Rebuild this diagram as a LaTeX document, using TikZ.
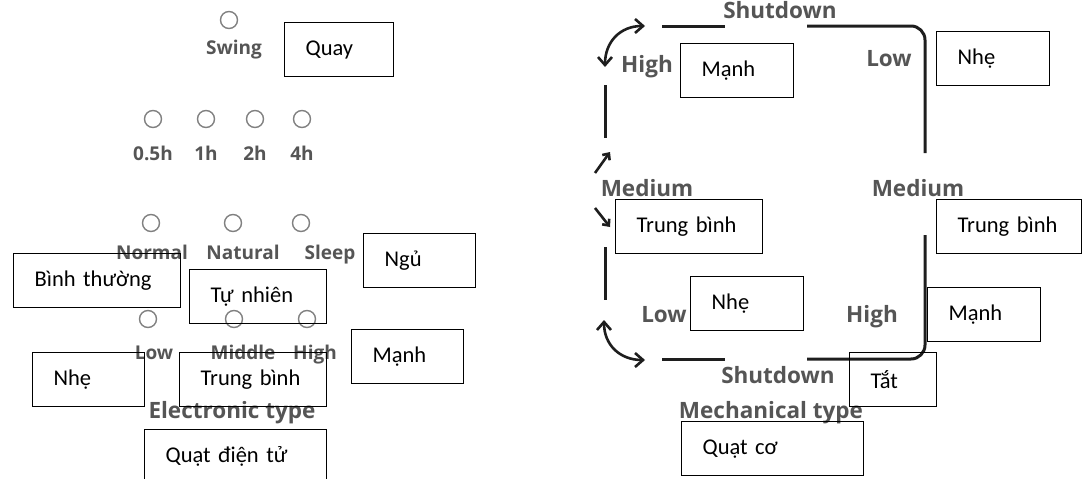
\documentclass[tikz,border=0pt]{standalone}
\usepackage{fontspec}
\setmainfont{Carlito}
\newfontfamily\anzeigefont{Open Sans}
\usetikzlibrary{arrows.meta}
\definecolor{anzeige}{HTML}{555555}
\definecolor{ring}{HTML}{808080}
\definecolor{strich}{HTML}{1E1E1E}

\begin{document}
\begin{tikzpicture}[x=1pt,y=-1pt,>={Straight Barb[length=8pt,width=14pt]},
	lampe/.style={circle,draw=ring,line width=1.4pt,minimum size=17pt,inner sep=0pt},
	klein/.style={anchor=base,text=anzeige,font=\anzeigefont\bfseries\fontsize{19}{19}\selectfont},
	gross/.style={anchor=base,text=anzeige,font=\anzeigefont\bfseries\fontsize{22.5}{22.5}\selectfont},
	feld/.style={draw,line width=1.3pt,anchor=north west,inner xsep=21pt,inner ysep=0pt,
		minimum height=54pt,align=left,text width=#1,font=\fontsize{22.5}{27}\selectfont},
	bahn/.style={draw=strich,line width=3pt,rounded corners=14pt},
	pfeil/.style={draw=strich,line width=2.6pt}]

\useasboundingbox (0,0) rectangle (1082,479);

% elektronisch
\node[lampe] (swing) at (229,20) {};
\node[klein] (swingname) at (234,54) {Swing};

\foreach \x/\t [count=\i] in {153/0.5h,206/1h,255/2h,302/4h}{
	\node[lampe] (zeit\i) at (\x,119) {};
	\node[klein] (zeitname\i) at (\x,160) {\t};
}

\foreach \x/\m/\t [count=\i] in {151/152/Normal,233/243/Natural,301/330/Sleep}{
	\node[lampe] (modus\i) at (\x,223) {};
	\node[klein] (modusname\i) at (\m,259) {\t};
}

\foreach \x/\m/\t [count=\i] in {148/154/Low,234/243/Middle,307/315/High}{
	\node[lampe] (stufe\i) at (\x,319) {};
	\node[klein] (stufename\i) at (\m,359) {\t};
}

\node[gross] (elektro) at (232,418) {Electronic type};

\node[feld=67pt]  (quay)     at (284,22)  {Quay};
\node[feld=125pt] (normal)   at (13,253)  {Bình thường};
\node[feld=95pt]  (natur)    at (189,269) {Tự nhiên};
\node[feld=70pt]  (schlaf)   at (363,233) {Ngủ};
\node[feld=70pt]  (mankl)    at (351,329) {Mạnh};
\node[feld=70pt]  (nhekl)    at (32,352)  {Nhẹ};
\node[feld=105pt] (mittel)   at (179,352) {Trung bình};
\node[feld=140pt] (elektrovn) at (144,429) {Quạt điện tử};

% mechanisch
\draw[bahn] (662,26) -- (725,26);
\draw[bahn] (807,26) -- (925,26) -- (925,153);
\draw[bahn] (605,85) -- (605,138);
\draw[bahn] (605,247) -- (605,300);
\draw[bahn] (925,235) -- (925,359) -- (807,359);
\draw[bahn] (662,359) -- (725,359);

\draw[pfeil,<->] (605,67) .. controls (605,42) and (620,26) .. (645,26);
\draw[pfeil,<->] (604,320) .. controls (604,345) and (620,360) .. (645,360);
\draw[pfeil,->,>={Straight Barb[length=5pt,width=9pt]}] (595,173) -- (610,152);
\draw[pfeil,->,>={Straight Barb[length=5pt,width=9pt]}] (595,208) -- (610,227);

\node[gross] (aus1)    at (780,18)  {Shutdown};
\node[gross] (hoch1)   at (647,72)  {High};
\node[gross] (tief1)   at (889,66)  {Low};
\node[gross] (mitte1)  at (647,196) {Medium};
\node[gross] (mitte2)  at (918,196) {Medium};
\node[gross] (tief2)   at (664,322) {Low};
\node[gross] (hoch2)   at (872,322) {High};
\node[gross] (aus2)    at (778,383) {Shutdown};
\node[gross] (mechan)  at (771,418) {Mechanical type};

\node[feld=71pt]  (manho)   at (680,43)  {Mạnh};
\node[feld=71pt]  (nheho)   at (936,31)  {Nhẹ};
\node[feld=105pt] (mitli)   at (615,199) {Trung bình};
\node[feld=103pt] (mitre)   at (936,199) {Trung bình};
\node[feld=71pt]  (nheun)   at (690,276) {Nhẹ};
\node[feld=71pt]  (manun)   at (927,287) {Mạnh};
\node[feld=45pt]  (tat)     at (849,352) {Tắt};
\node[feld=140pt] (mechvn)  at (681,421) {Quạt cơ};

\end{tikzpicture}
\end{document}
